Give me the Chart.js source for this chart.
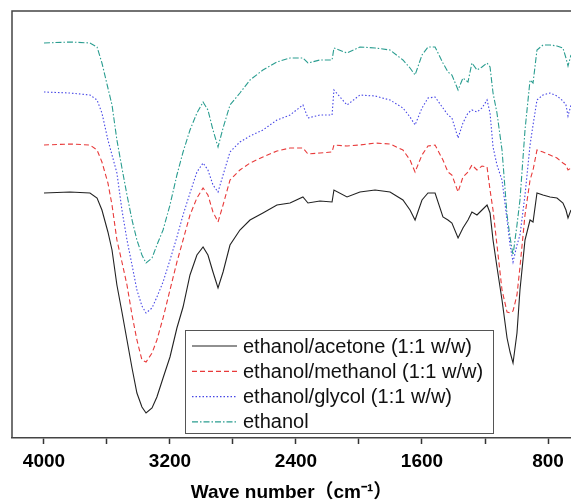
<!DOCTYPE html>
<html>
<head>
<meta charset="utf-8">
<script src="https://cdn.jsdelivr.net/npm/chart.js@4.4.0/dist/chart.umd.min.js"></script>
<style>
  html, body { margin: 0; padding: 0; background: #fff; }
  #wrap { width: 571px; height: 504px; }
</style>
</head>
<body>
<div id="wrap"><canvas id="chart" width="571" height="504"></canvas></div>
<script>
// wave numbers (cm-1)
var wavenumber = [4000, 3835, 3708, 3663, 3632, 3594, 3568, 3537, 3505, 3473,
  3441, 3410, 3378, 3352, 3314, 3283, 3244, 3200, 3156, 3117,
  3073, 3029, 2990, 2959, 2927, 2895, 2863, 2819, 2756, 2692,
  2610, 2521, 2438, 2356, 2324, 2248, 2171, 2159, 2076, 1994,
  1898, 1803, 1721, 1676, 1644, 1600, 1562, 1517, 1467, 1435,
  1410, 1371, 1340, 1308, 1283, 1251, 1219, 1187, 1168, 1149,
  1124, 1092, 1060, 1041, 1022, 997, 978, 946, 914, 895,
  870, 832, 787, 743, 705, 686, 673, 654];

// transmittance, arbitrary units (curves are offset)
var acetone = [245, 246, 245, 240, 228, 206, 188, 153, 126, 98,
  70, 45, 31, 25, 30, 41, 60, 81, 110, 131,
  163, 183, 191, 183, 166, 150, 166, 193, 208, 218,
  225, 233, 235, 241, 235, 237, 236, 248, 241, 246,
  248, 246, 238, 228, 218, 238, 245, 245, 221, 218,
  215, 200, 210, 218, 226, 223, 228, 233, 225, 198,
  171, 138, 100, 86, 75, 105, 148, 198, 218, 216,
  245, 243, 241, 240, 235, 228, 220, 228];

var methanol = [293, 294, 293, 288, 276, 255, 233, 198, 176, 153,
  123, 98, 78, 76, 85, 98, 120, 148, 176, 198,
  223, 240, 250, 243, 226, 216, 233, 258, 268, 275,
  281, 287, 290, 290, 284, 285, 286, 293, 292, 293,
  295, 294, 288, 278, 266, 283, 292, 293, 278, 266,
  263, 246, 261, 266, 273, 268, 272, 271, 248, 228,
  193, 148, 126, 125, 127, 143, 171, 223, 258, 268,
  288, 286, 283, 280, 275, 273, 268, 270];

var glycol = [346, 345, 343, 338, 325, 298, 283, 265, 228, 198,
  173, 148, 132, 125, 130, 141, 156, 178, 201, 223,
  245, 266, 275, 268, 253, 246, 263, 286, 296, 302,
  308, 318, 323, 333, 320, 323, 323, 348, 333, 343,
  342, 338, 330, 321, 313, 330, 340, 341, 330, 323,
  320, 300, 315, 325, 328, 326, 330, 338, 325, 291,
  273, 258, 218, 193, 176, 193, 203, 243, 293, 313,
  338, 343, 345, 342, 337, 333, 322, 333];

var ethanol = [395, 396, 395, 391, 375, 350, 333, 298, 270, 243,
  218, 198, 183, 175, 180, 193, 208, 233, 263, 286,
  308, 325, 336, 328, 308, 291, 310, 333, 345, 358,
  368, 376, 380, 380, 375, 378, 378, 390, 385, 391,
  390, 388, 378, 370, 363, 383, 391, 391, 375, 366,
  363, 348, 360, 356, 375, 368, 371, 375, 371, 345,
  325, 288, 223, 201, 183, 213, 238, 308, 358, 355,
  388, 393, 393, 392, 390, 380, 372, 383];

var tickValues = [4000, 3600, 3200, 2800, 2400, 2000, 1600, 1200, 800];
var tickLabels = ['4000', '', '3200', '', '2400', '', '1600', '', '800'];

var names = ['ethanol/acetone (1:1 w/w)', 'ethanol/methanol (1:1 w/w)', 'ethanol/glycol (1:1 w/w)', 'ethanol'];

function pts(vals) {
    return wavenumber.map(function (w, i) { return { x: w, y: vals[i] }; });
}

var FONT = "'Liberation Sans', Arial, 'Noto Sans CJK SC', sans-serif";

// frame on left and top, like the origin plot
var framePlugin = {
    id: 'frame',
    afterDraw: function (chart) {
        var c = chart.ctx, a = chart.chartArea;
        c.save();
        c.strokeStyle = '#444';
        c.lineWidth = 1.5;
        c.beginPath();
        c.moveTo(a.left, a.bottom);
        c.lineTo(a.left, a.top);
        c.lineTo(chart.width, a.top);
        c.stroke();
        c.restore();
    }
};

// boxed legend inside the plot
var boxLegend = {
    id: 'boxLegend',
    afterDraw: function (chart) {
        var c = chart.ctx;
        var x0 = 185, y0 = 330, w = 308, h = 103;
        c.save();
        c.fillStyle = '#fff';
        c.fillRect(x0, y0, w, h);
        c.strokeStyle = '#555';
        c.lineWidth = 1;
        c.strokeRect(x0 + 0.5, y0 + 0.5, w, h);
        c.font = '20px ' + FONT;
        c.textBaseline = 'middle';
        chart.data.datasets.forEach(function (ds, i) {
            var y = y0 + 16 + i * 25.3;
            c.strokeStyle = ds.borderColor;
            c.lineWidth = 1.2;
            c.setLineDash(ds.borderDash || []);
            c.beginPath();
            c.moveTo(x0 + 7, y);
            c.lineTo(x0 + 52, y);
            c.stroke();
            c.setLineDash([]);
            c.fillStyle = '#111';
            c.fillText(ds.label, x0 + 58, y + 1);
        });
        c.restore();
    }
};

function graph() {
    var context = document.querySelector('#chart').getContext('2d');
    new Chart(context, {
        type: 'line',
        data: {
            datasets: [{
                label: names[0],
                data: pts(acetone),
                borderColor: '#222',
                borderWidth: 1.1
            }, {
                label: names[1],
                data: pts(methanol),
                borderColor: '#e83a3a',
                borderWidth: 1.1,
                borderDash: [5, 3]
            }, {
                label: names[2],
                data: pts(glycol),
                borderColor: '#4646e6',
                borderWidth: 1.1,
                borderDash: [1.5, 2]
            }, {
                label: names[3],
                data: pts(ethanol),
                borderColor: '#2a9d90',
                borderWidth: 1.1,
                borderDash: [6, 2, 1.5, 2]
            }]
        },
        options: {
            responsive: false,
            animation: false,
            events: [],
            elements: { point: { radius: 0 }, line: { tension: 0 } },
            layout: { padding: { left: 12, top: 11, right: 0, bottom: 0 } },
            plugins: { legend: { display: false }, tooltip: { enabled: false } },
            scales: {
                x: {
                    type: 'linear',
                    reverse: true,
                    min: 654,
                    max: 4203,
                    afterBuildTicks: function (s) {
                        s.ticks = tickValues.map(function (v) { return { value: v }; });
                    },
                    afterFit: function (s) { s.height = 66; },
                    grid: { drawOnChartArea: false, drawTicks: true, tickLength: 6, tickColor: '#333', tickWidth: 1.5 },
                    border: { display: true, color: '#444', width: 1.5 },
                    ticks: {
                        autoSkip: false,
                        maxRotation: 0,
                        padding: 6,
                        color: '#000',
                        font: { family: FONT, size: 19, weight: 'bold' },
                        callback: function (v) {
                            var i = tickValues.indexOf(v);
                            return i >= 0 ? tickLabels[i] : '';
                        }
                    },
                    title: {
                        display: true,
                        text: 'Wave number（cm⁻¹）',
                        color: '#000',
                        font: { family: FONT, size: 19, weight: 'bold' },
                        padding: { top: 0, bottom: 0 }
                    }
                },
                y: { display: false, min: 0, max: 427 }
            }
        },
        plugins: [framePlugin, boxLegend]
    });
}

graph();
</script>
</body>
</html>
